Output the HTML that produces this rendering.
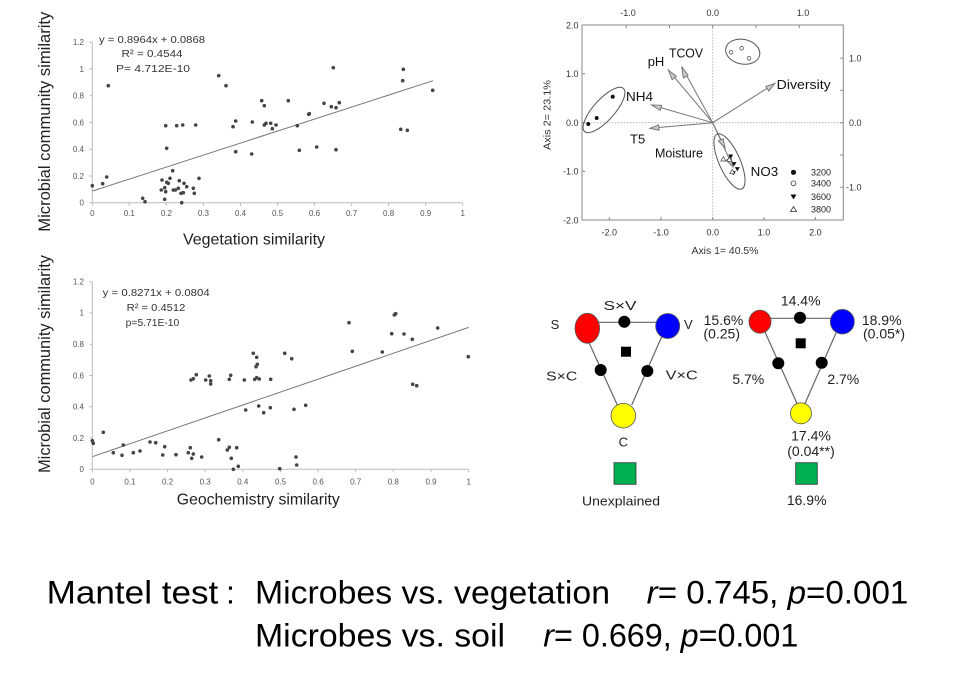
<!DOCTYPE html>
<html><head><meta charset="utf-8"><style>
html,body{margin:0;padding:0;background:#fff;}
svg{display:block;}
</style></head><body>
<svg width="960" height="679" viewBox="0 0 960 679" xmlns="http://www.w3.org/2000/svg" font-family="'Liberation Sans', sans-serif">
<rect width="960" height="679" fill="#fff"/>

<!-- ===== TOP-LEFT SCATTER ===== -->
<g stroke="#bbb" stroke-width="1" fill="none">
  <line x1="92.3" y1="42.3" x2="92.3" y2="202.7"/>
  <line x1="92.3" y1="202.7" x2="462.7" y2="202.7"/>
  <path d="M89.3 202.7h3M89.3 176h3M89.3 149.2h3M89.3 122.5h3M89.3 95.7h3M89.3 69h3M89.3 42.3h3"/>
  <path d="M92.3 202.7v3M129.3 202.7v3M166.4 202.7v3M203.4 202.7v3M240.5 202.7v3M277.5 202.7v3M314.5 202.7v3M351.6 202.7v3M388.6 202.7v3M425.7 202.7v3M462.7 202.7v3"/>
</g>
<g font-size="8" fill="#555" text-anchor="end">
  <text x="84" y="205.5">0</text><text x="84" y="178.8">0.2</text><text x="84" y="152">0.4</text><text x="84" y="125.3">0.6</text><text x="84" y="98.5">0.8</text><text x="84" y="71.8">1</text><text x="84" y="45.1">1.2</text>
</g>
<g font-size="8" fill="#555" text-anchor="middle">
  <text x="92.3" y="216">0</text><text x="129.3" y="216">0.1</text><text x="166.4" y="216">0.2</text><text x="203.4" y="216">0.3</text><text x="240.5" y="216">0.4</text><text x="277.5" y="216">0.5</text><text x="314.5" y="216">0.6</text><text x="351.6" y="216">0.7</text><text x="388.6" y="216">0.8</text><text x="425.7" y="216">0.9</text><text x="462.7" y="216">1</text>
</g>
<line x1="92.3" y1="191.1" x2="433" y2="80.7" stroke="#777" stroke-width="1"/>
<g fill="#444">
<circle cx="92.3" cy="185.7" r="1.8"/><circle cx="102.7" cy="183.7" r="1.8"/><circle cx="106.7" cy="177" r="1.8"/><circle cx="108.3" cy="85.7" r="1.8"/>
<circle cx="142.7" cy="198.3" r="1.8"/><circle cx="145" cy="201.7" r="1.8"/><circle cx="161.3" cy="190" r="1.8"/><circle cx="162" cy="180" r="1.8"/>
<circle cx="164.7" cy="187.7" r="1.8"/><circle cx="164.7" cy="199.3" r="1.8"/><circle cx="165.7" cy="125.7" r="1.8"/><circle cx="166.7" cy="148.3" r="1.8"/>
<circle cx="166.7" cy="182.3" r="1.8"/><circle cx="165.7" cy="191.7" r="1.8"/><circle cx="168.3" cy="183.3" r="1.8"/><circle cx="170" cy="178.3" r="1.8"/>
<circle cx="172.7" cy="170.7" r="1.8"/><circle cx="173.3" cy="190" r="1.8"/><circle cx="175.3" cy="190" r="1.8"/><circle cx="176.7" cy="125.7" r="1.8"/>
<circle cx="178.3" cy="188.3" r="1.8"/><circle cx="179.3" cy="180.7" r="1.8"/><circle cx="181" cy="193.3" r="1.8"/><circle cx="181.7" cy="202.7" r="1.8"/>
<circle cx="182.7" cy="125" r="1.8"/><circle cx="183.3" cy="192.7" r="1.8"/><circle cx="184" cy="183.3" r="1.8"/><circle cx="186.7" cy="186.7" r="1.8"/>
<circle cx="193.3" cy="188.3" r="1.8"/><circle cx="194.3" cy="193.3" r="1.8"/><circle cx="195.7" cy="125" r="1.8"/><circle cx="199" cy="178.3" r="1.8"/>
<circle cx="218.7" cy="75.7" r="1.8"/><circle cx="226" cy="85.7" r="1.8"/><circle cx="233" cy="126.7" r="1.8"/><circle cx="235.7" cy="121" r="1.8"/>
<circle cx="235.7" cy="151.7" r="1.8"/><circle cx="252.3" cy="122" r="1.8"/><circle cx="251.7" cy="154" r="1.8"/><circle cx="261.7" cy="100.7" r="1.8"/>
<circle cx="264.3" cy="105.7" r="1.8"/><circle cx="264.3" cy="125" r="1.8"/><circle cx="266" cy="123.3" r="1.8"/><circle cx="270.7" cy="123.3" r="1.8"/>
<circle cx="272.3" cy="128.7" r="1.8"/><circle cx="276" cy="125" r="1.8"/><circle cx="288.3" cy="100.7" r="1.8"/><circle cx="297.3" cy="125.7" r="1.8"/>
<circle cx="299.3" cy="150.3" r="1.8"/><circle cx="308.7" cy="114.3" r="1.8"/><circle cx="309.3" cy="113.7" r="1.8"/><circle cx="316.7" cy="147" r="1.8"/>
<circle cx="324" cy="103.3" r="1.8"/><circle cx="331.3" cy="106.7" r="1.8"/><circle cx="333.3" cy="67.7" r="1.8"/><circle cx="336" cy="107.7" r="1.8"/>
<circle cx="336" cy="149.7" r="1.8"/><circle cx="339.3" cy="102.7" r="1.8"/><circle cx="402.7" cy="80.7" r="1.8"/><circle cx="403.3" cy="69.3" r="1.8"/>
<circle cx="400.7" cy="129.3" r="1.8"/><circle cx="407.3" cy="130.3" r="1.8"/><circle cx="432.7" cy="90.3" r="1.8"/>
</g>
<g font-size="10" fill="#333">
  <text x="99" y="42.8" textLength="106" lengthAdjust="spacingAndGlyphs">y = 0.8964x + 0.0868</text>
  <text x="121.5" y="57.2" textLength="61" lengthAdjust="spacingAndGlyphs">R² = 0.4544</text>
  <text x="116" y="71.8" textLength="74" lengthAdjust="spacingAndGlyphs">P= 4.712E-10</text>
</g>
<text transform="translate(50,121.7) rotate(-90)" text-anchor="middle" font-size="16.5" fill="#222" textLength="220" lengthAdjust="spacingAndGlyphs">Microbial community similarity</text>
<text x="254" y="244.5" text-anchor="middle" font-size="16" fill="#222" textLength="142" lengthAdjust="spacingAndGlyphs">Vegetation similarity</text>

<!-- ===== BOTTOM-LEFT SCATTER ===== -->
<g stroke="#bbb" stroke-width="1" fill="none">
  <line x1="92.3" y1="281.7" x2="92.3" y2="469.3"/>
  <line x1="92.3" y1="469.3" x2="468.7" y2="469.3"/>
  <path d="M89.3 469.3h3M89.3 438h3M89.3 406.7h3M89.3 375.5h3M89.3 344.2h3M89.3 312.9h3M89.3 281.7h3"/>
  <path d="M92.3 469.3v3M129.9 469.3v3M167.6 469.3v3M205.2 469.3v3M242.8 469.3v3M280.5 469.3v3M318.1 469.3v3M355.7 469.3v3M393.3 469.3v3M431 469.3v3M468.7 469.3v3"/>
</g>
<g font-size="8" fill="#555" text-anchor="end">
  <text x="84" y="472.1">0</text><text x="84" y="440.8">0.2</text><text x="84" y="409.5">0.4</text><text x="84" y="378.3">0.6</text><text x="84" y="347">0.8</text><text x="84" y="315.7">1</text><text x="84" y="284.5">1.2</text>
</g>
<g font-size="8" fill="#555" text-anchor="middle">
  <text x="92.3" y="484.5">0</text><text x="129.9" y="484.5">0.1</text><text x="167.6" y="484.5">0.2</text><text x="205.2" y="484.5">0.3</text><text x="242.8" y="484.5">0.4</text><text x="280.5" y="484.5">0.5</text><text x="318.1" y="484.5">0.6</text><text x="355.7" y="484.5">0.7</text><text x="393.3" y="484.5">0.8</text><text x="431" y="484.5">0.9</text><text x="468.7" y="484.5">1</text>
</g>
<line x1="92.3" y1="456.7" x2="468.7" y2="327.4" stroke="#777" stroke-width="1"/>
<g fill="#444">
<circle cx="92.3" cy="440.7" r="1.8"/><circle cx="93.3" cy="443.3" r="1.8"/><circle cx="103.3" cy="432.3" r="1.8"/><circle cx="113.3" cy="452.7" r="1.8"/>
<circle cx="122" cy="455.3" r="1.8"/><circle cx="123.3" cy="445" r="1.8"/><circle cx="133.3" cy="452.7" r="1.8"/><circle cx="140" cy="451" r="1.8"/>
<circle cx="150" cy="442" r="1.8"/><circle cx="155.7" cy="442.7" r="1.8"/><circle cx="162.7" cy="455" r="1.8"/><circle cx="164.7" cy="446.7" r="1.8"/>
<circle cx="176" cy="454.7" r="1.8"/><circle cx="188.3" cy="452.7" r="1.8"/><circle cx="190.3" cy="447.7" r="1.8"/><circle cx="191.7" cy="458.3" r="1.8"/>
<circle cx="193.3" cy="454" r="1.8"/><circle cx="191" cy="380" r="1.8"/><circle cx="193.3" cy="378.7" r="1.8"/><circle cx="196.3" cy="374.7" r="1.8"/>
<circle cx="201.7" cy="457" r="1.8"/><circle cx="205.7" cy="380" r="1.8"/><circle cx="209.3" cy="376" r="1.8"/><circle cx="210.7" cy="380.7" r="1.8"/>
<circle cx="210.7" cy="384" r="1.8"/><circle cx="218.7" cy="439.7" r="1.8"/><circle cx="227.3" cy="450" r="1.8"/><circle cx="229.3" cy="447.3" r="1.8"/>
<circle cx="229.3" cy="379.3" r="1.8"/><circle cx="230.7" cy="375.3" r="1.8"/><circle cx="231.3" cy="458.3" r="1.8"/><circle cx="233.3" cy="469.3" r="1.8"/>
<circle cx="236.7" cy="447.7" r="1.8"/><circle cx="238.3" cy="466.3" r="1.8"/><circle cx="244.3" cy="380" r="1.8"/><circle cx="245.7" cy="410" r="1.8"/>
<circle cx="253.3" cy="353.3" r="1.8"/><circle cx="256.7" cy="357.3" r="1.8"/><circle cx="256" cy="366.7" r="1.8"/><circle cx="257.3" cy="364.3" r="1.8"/>
<circle cx="254.7" cy="379.3" r="1.8"/><circle cx="256.7" cy="377.7" r="1.8"/><circle cx="259.3" cy="379" r="1.8"/><circle cx="258.7" cy="406" r="1.8"/>
<circle cx="263.7" cy="412.7" r="1.8"/><circle cx="270.3" cy="407.7" r="1.8"/><circle cx="270.7" cy="379.3" r="1.8"/><circle cx="279.7" cy="468.7" r="1.8"/>
<circle cx="284.7" cy="353.3" r="1.8"/><circle cx="291.7" cy="358.7" r="1.8"/><circle cx="294" cy="409.3" r="1.8"/><circle cx="296" cy="457" r="1.8"/>
<circle cx="296.7" cy="465" r="1.8"/><circle cx="305.7" cy="405.3" r="1.8"/><circle cx="349" cy="322.7" r="1.8"/><circle cx="352.3" cy="351.3" r="1.8"/>
<circle cx="382.3" cy="352" r="1.8"/><circle cx="391.7" cy="333.7" r="1.8"/><circle cx="394.3" cy="315" r="1.8"/><circle cx="395.7" cy="313.7" r="1.8"/>
<circle cx="404" cy="334" r="1.8"/><circle cx="412.3" cy="339.3" r="1.8"/><circle cx="412.7" cy="384.3" r="1.8"/><circle cx="416.7" cy="385.7" r="1.8"/>
<circle cx="437.7" cy="328" r="1.8"/><circle cx="468.3" cy="356.7" r="1.8"/>
</g>
<g font-size="10" fill="#333">
  <text x="102.7" y="295.8" textLength="107" lengthAdjust="spacingAndGlyphs">y = 0.8271x + 0.0804</text>
  <text x="126.7" y="310.8" textLength="58.6" lengthAdjust="spacingAndGlyphs">R² = 0.4512</text>
  <text x="125.7" y="325.8" textLength="53.6" lengthAdjust="spacingAndGlyphs">p=5.71E-10</text>
</g>
<text transform="translate(50,364) rotate(-90)" text-anchor="middle" font-size="16.5" fill="#222" textLength="218" lengthAdjust="spacingAndGlyphs">Microbial community similarity</text>
<text x="258.3" y="504.3" text-anchor="middle" font-size="16" fill="#222" textLength="163" lengthAdjust="spacingAndGlyphs">Geochemistry similarity</text>

<!-- ===== ORDINATION PLOT ===== -->
<rect x="582" y="25" width="261.3" height="195" fill="none" stroke="#888" stroke-width="1"/>
<g stroke="#aaa" stroke-width="0.8" stroke-dasharray="1.5 1.5">
  <line x1="712.7" y1="25" x2="712.7" y2="220"/>
  <line x1="582" y1="122.7" x2="843.3" y2="122.7"/>
</g>
<g stroke="#888" stroke-width="1">
  <path d="M582 73.8h3M582 122.7h3M582 171.4h3"/>
  <path d="M609.3 220v-3M661 220v-3M712.7 220v-3M764 220v-3M815.4 220v-3"/>
  <path d="M626.2 25v3M669.5 25v3M712.7 25v3M756 25v3M799.2 25v3"/>
  <path d="M843.3 58.1h-3M843.3 90.4h-3M843.3 122.7h-3M843.3 155h-3M843.3 187.3h-3"/>
</g>
<g font-size="9" fill="#333" text-anchor="middle">
  <text x="628" y="16">-1.0</text><text x="712.7" y="16">0.0</text><text x="803" y="16">1.0</text>
  <text x="609.3" y="235.5">-2.0</text><text x="661" y="235.5">-1.0</text><text x="712.7" y="235.5">0.0</text><text x="764" y="235.5">1.0</text><text x="815.4" y="235.5">2.0</text>
</g>
<g font-size="9" fill="#333" text-anchor="end">
  <text x="578.5" y="28.3">2.0</text><text x="578.5" y="77">1.0</text><text x="578.5" y="126">0.0</text><text x="578.5" y="174.7">-1.0</text><text x="578.5" y="223.3">-2.0</text>
</g>
<g font-size="9" fill="#333">
  <text x="849" y="61.4">1.0</text><text x="849" y="126">0.0</text><text x="846" y="190.6">-1.0</text>
</g>
<text x="725" y="254" text-anchor="middle" font-size="10" fill="#333" textLength="67" lengthAdjust="spacingAndGlyphs">Axis 1= 40.5%</text>
<text transform="translate(550.5,115) rotate(-90)" text-anchor="middle" font-size="10" fill="#333" textLength="70" lengthAdjust="spacingAndGlyphs">Axis 2= 23.1%</text>

<!-- arrows -->
<g stroke="#777" stroke-width="1" fill="#ccc">
  <line x1="712.7" y1="122.7" x2="668.3" y2="70"/>
  <line x1="712.7" y1="122.7" x2="681.7" y2="66.7"/>
  <line x1="712.7" y1="122.7" x2="651.7" y2="105"/>
  <line x1="712.7" y1="122.7" x2="650" y2="128.3"/>
  <line x1="712.7" y1="122.7" x2="775" y2="83.3"/>
  <line x1="712.7" y1="122.7" x2="725" y2="148"/>
  <line x1="712.7" y1="122.7" x2="733" y2="167"/>
  <polygon points="668.3,70 676.3,76.3 672.2,79.7"/>
  <polygon points="681.7,66.7 688,75.3 683.4,77.9"/>
  <polygon points="651.7,105 661.6,105.3 660.1,110.4"/>
  <polygon points="650,128.3 658.6,124.9 659.1,130.2"/>
  <polygon points="775,83.3 768.8,91 765.9,86.5"/>
  <polygon points="725,148 718.4,141 723.2,138.7"/>
  <polygon points="733,167 726.3,160 731.2,157.8"/>
</g>
<g font-size="13" fill="#111">
  <text x="647.7" y="66">pH</text>
  <text x="669" y="57.5" textLength="34" lengthAdjust="spacingAndGlyphs">TCOV</text>
  <text x="626" y="101" textLength="27" lengthAdjust="spacingAndGlyphs">NH4</text>
  <text x="630" y="143.5">T5</text>
  <text x="776.7" y="89" textLength="54" lengthAdjust="spacingAndGlyphs">Diversity</text>
  <text x="655" y="157.5" textLength="48" lengthAdjust="spacingAndGlyphs">Moisture</text>
  <text x="750.7" y="176" textLength="27.5" lengthAdjust="spacingAndGlyphs">NO3</text>
</g>
<!-- ellipses -->
<g fill="none" stroke="#555" stroke-width="1">
  <ellipse cx="0" cy="0" rx="29" ry="10.5" transform="translate(604,110) rotate(-48)"/>
  <ellipse cx="0" cy="0" rx="17.3" ry="12.3" transform="translate(742.7,51.7) rotate(12)"/>
  <ellipse cx="0" cy="0" rx="30" ry="10.5" transform="translate(729.5,161.5) rotate(66)"/>
</g>
<!-- points -->
<g fill="#111">
  <circle cx="588.3" cy="124" r="2"/><circle cx="596.7" cy="118" r="2"/><circle cx="612.7" cy="96.7" r="2"/>
</g>
<g fill="#fff" stroke="#444" stroke-width="0.7">
  <circle cx="731" cy="52.3" r="1.8"/><circle cx="741.7" cy="48.3" r="1.8"/><circle cx="749" cy="58.3" r="1.8"/>
</g>
<g fill="#111">
  <polygon points="728.2,154.5 733.2,154.5 730.7,158.8"/>
  <polygon points="731.5,162.1 736.5,162.1 734,166.4"/>
  <polygon points="734.8,167.1 739.8,167.1 737.3,171.4"/>
  <polygon points="730.8,171.1 735.8,171.1 733.3,175.4"/>
</g>
<g fill="#fff" stroke="#444" stroke-width="0.7">
  <polygon points="720.8,161 725.8,161 723.3,156.7"/>
  <polygon points="726.8,161.3 731.8,161.3 729.3,157"/>
  <polygon points="729.8,173.7 734.8,173.7 732.3,169.4"/>
</g>
<!-- legend -->
<circle cx="793.5" cy="172.3" r="2.6" fill="#111"/>
<circle cx="793.5" cy="183.3" r="2.4" fill="#fff" stroke="#333" stroke-width="0.8"/>
<polygon points="790.5,194.5 796.5,194.5 793.5,199.5" fill="#111"/>
<polygon points="790.5,211.5 796.5,211.5 793.5,206.5" fill="#fff" stroke="#333" stroke-width="0.8"/>
<g font-size="9" fill="#222">
  <text x="811" y="175.5">3200</text><text x="811" y="186.5">3400</text><text x="811" y="199.9">3600</text><text x="811" y="212.5">3800</text>
</g>

<!-- ===== VARIATION PARTITIONING ===== -->
<g stroke="#666" stroke-width="1.2" fill="none">
  <line x1="587" y1="322.3" x2="667.7" y2="322.3"/>
  <line x1="589.3" y1="343.3" x2="617.3" y2="405"/>
  <line x1="661.7" y1="336.7" x2="631.7" y2="405"/>
  <line x1="760" y1="318.3" x2="842.3" y2="318.3"/>
  <line x1="765" y1="332" x2="797" y2="403.5"/>
  <line x1="836" y1="333" x2="805" y2="403.5"/>
</g>
<g stroke="#555" stroke-width="0.8">
  <ellipse cx="587.3" cy="328.3" rx="12.3" ry="15" fill="#ff0000"/>
  <ellipse cx="667.7" cy="326" rx="12" ry="12.5" fill="#0000ff"/>
  <circle cx="623.3" cy="415.7" r="12.3" fill="#ffff00"/>
  <ellipse cx="760" cy="321.7" rx="11" ry="11.5" fill="#ff0000"/>
  <ellipse cx="842.3" cy="321.7" rx="12" ry="12.3" fill="#0000ff"/>
  <circle cx="801" cy="413.3" r="10.5" fill="#ffff00"/>
  <rect x="614" y="462.7" width="22" height="21.6" fill="#00b050" stroke="#333"/>
  <rect x="795.7" y="462.7" width="21.6" height="21.6" fill="#00b050" stroke="#333"/>
</g>
<g fill="#000">
  <circle cx="624.3" cy="321.7" r="6"/>
  <circle cx="600.7" cy="370" r="6"/>
  <circle cx="647.3" cy="371" r="6"/>
  <rect x="621" y="346.7" width="10" height="10"/>
  <circle cx="800" cy="317.7" r="6"/>
  <circle cx="778.3" cy="363.3" r="6"/>
  <circle cx="821.7" cy="362.7" r="6"/>
  <rect x="795.7" y="338.3" width="10" height="10"/>
</g>
<g font-size="13" fill="#222" text-anchor="middle">
  <text x="620" y="310" textLength="33" lengthAdjust="spacingAndGlyphs">S×V</text>
  <text x="555" y="329">S</text>
  <text x="688.3" y="329">V</text>
  <text x="561.7" y="380.5" textLength="31" lengthAdjust="spacingAndGlyphs">S×C</text>
  <text x="681.7" y="379.5" textLength="32" lengthAdjust="spacingAndGlyphs">V×C</text>
  <text x="623.3" y="446.5">C</text>
  <text x="621" y="505.5" textLength="78" lengthAdjust="spacingAndGlyphs">Unexplained</text>
</g>
<g font-size="14" fill="#222" text-anchor="middle">
  <text x="800.7" y="305.5">14.4%</text>
  <text x="723.5" y="325">15.6%</text>
  <text x="721.7" y="338.5">(0.25)</text>
  <text x="881.7" y="325">18.9%</text>
  <text x="884" y="338.5">(0.05*)</text>
  <text x="748.3" y="384">5.7%</text>
  <text x="843.3" y="384">2.7%</text>
  <text x="811" y="440.5">17.4%</text>
  <text x="811" y="456">(0.04**)</text>
  <text x="806.7" y="505">16.9%</text>
</g>

<!-- ===== MANTEL TEXT ===== -->
<g font-size="32" fill="#000">
  <text x="46.7" y="603.3" textLength="171.6" lengthAdjust="spacingAndGlyphs">Mantel test</text>
  <text x="226" y="603.3">:</text>
  <text x="255" y="603.3" textLength="355" lengthAdjust="spacingAndGlyphs">Microbes vs. vegetation</text>
  <text x="646.7" y="603.3" textLength="261.6" lengthAdjust="spacingAndGlyphs"><tspan font-style="italic">r</tspan>= 0.745, <tspan font-style="italic">p</tspan>=0.001</text>
  <text x="255" y="646.7" textLength="250" lengthAdjust="spacingAndGlyphs">Microbes vs. soil</text>
  <text x="543.3" y="646.7" textLength="255" lengthAdjust="spacingAndGlyphs"><tspan font-style="italic">r</tspan>= 0.669, <tspan font-style="italic">p</tspan>=0.001</text>
</g>
</svg>
</body></html>
